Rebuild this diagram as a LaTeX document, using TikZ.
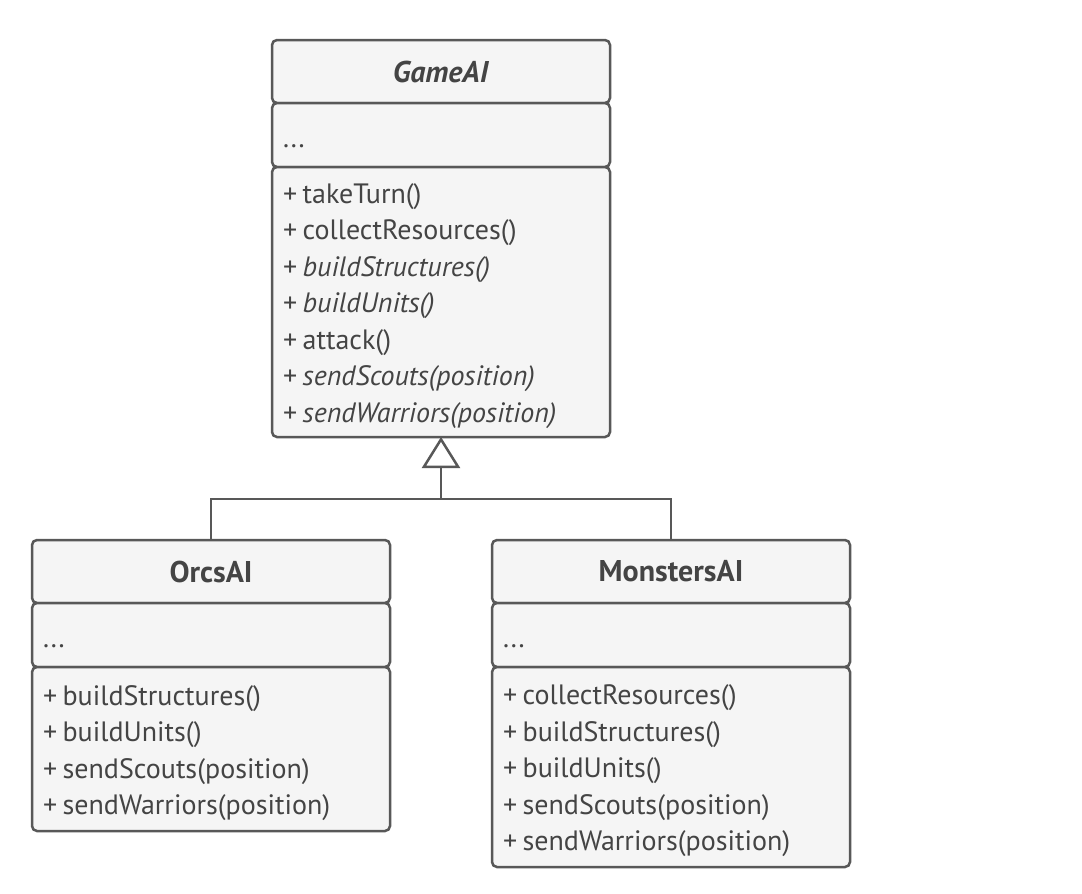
\documentclass[tikz,border=0pt]{standalone}
\usepackage{fontspec}
\setmainfont{PT Sans}
\usetikzlibrary{positioning,arrows.meta}

\definecolor{umlline}{HTML}{585858}
\definecolor{umlfill}{HTML}{F5F5F5}
\definecolor{umltext}{HTML}{444444}

\newcommand{\pub}{+\kern5.5pt}

\tikzset{
    umlbox/.style = {draw=umlline, fill=umlfill, line width=2.5pt,
        rounded corners=5pt, inner xsep=11pt, inner ysep=0pt, outer sep=0pt,
        text=umltext, align=left, text width=#1,
        font=\fontsize{28}{36.5}\selectfont},
    classname/.style = {umlbox=#1, align=center, minimum height=63pt,
        font=\fontsize{30}{34}\selectfont\bfseries},
    fields/.style = {umlbox=#1, minimum height=64pt,
        execute at begin node=\rule{0pt}{25pt}},
    methods/.style = {umlbox=#1, execute at begin node=\rule{0pt}{28pt}},
    inherit/.style = {draw=umlline, line width=2.5pt,
        -{Triangle[open, length=31pt, width=38pt]}}
}

\begin{document}
\begin{tikzpicture}[x=1pt, y=-1pt]
    \fill[white] (0,0) rectangle (1082,894);
    \useasboundingbox (0,0) rectangle (1082,894);

    % abstract base class
    \node[classname=316pt, anchor=north west] (game) at (272,40) {\textit{GameAI}};
    \node[fields=316pt, below=0pt of game] (gameattr) {...};
    \node[methods=316pt, minimum height=270pt, below=0pt of gameattr] (gameops) {%
        \pub takeTurn()\\
        \pub collectResources()\\
        \pub \textit{buildStructures()}\\
        \pub \textit{buildUnits()}\\
        \pub attack()\\
        \pub \textit{sendScouts(position)}\\
        \pub \textit{sendWarriors(position)}};

    % subclasses
    \node[classname=336pt, anchor=north west] (orcs) at (32,540) {OrcsAI};
    \node[fields=336pt, below=0pt of orcs] (orcsattr) {...};
    \node[methods=336pt, minimum height=164pt, below=0pt of orcsattr] (orcsops) {%
        \pub buildStructures()\\
        \pub buildUnits()\\
        \pub sendScouts(position)\\
        \pub sendWarriors(position)};

    \node[classname=336pt, anchor=north west] (monsters) at (492,540) {MonstersAI};
    \node[fields=336pt, below=0pt of monsters] (monstersattr) {...};
    \node[methods=336pt, minimum height=200pt, below=0pt of monstersattr] (monstersops) {%
        \pub collectResources()\\
        \pub buildStructures()\\
        \pub buildUnits()\\
        \pub sendScouts(position)\\
        \pub sendWarriors(position)};

    % generalization
    \coordinate (split) at (441,499);
    \draw[draw=umlline, line width=2.5pt] (orcs.north) |- (split);
    \draw[draw=umlline, line width=2.5pt] (monsters.north) |- (split);
    \draw[inherit] (split) -- (gameops.south);
\end{tikzpicture}
\end{document}
